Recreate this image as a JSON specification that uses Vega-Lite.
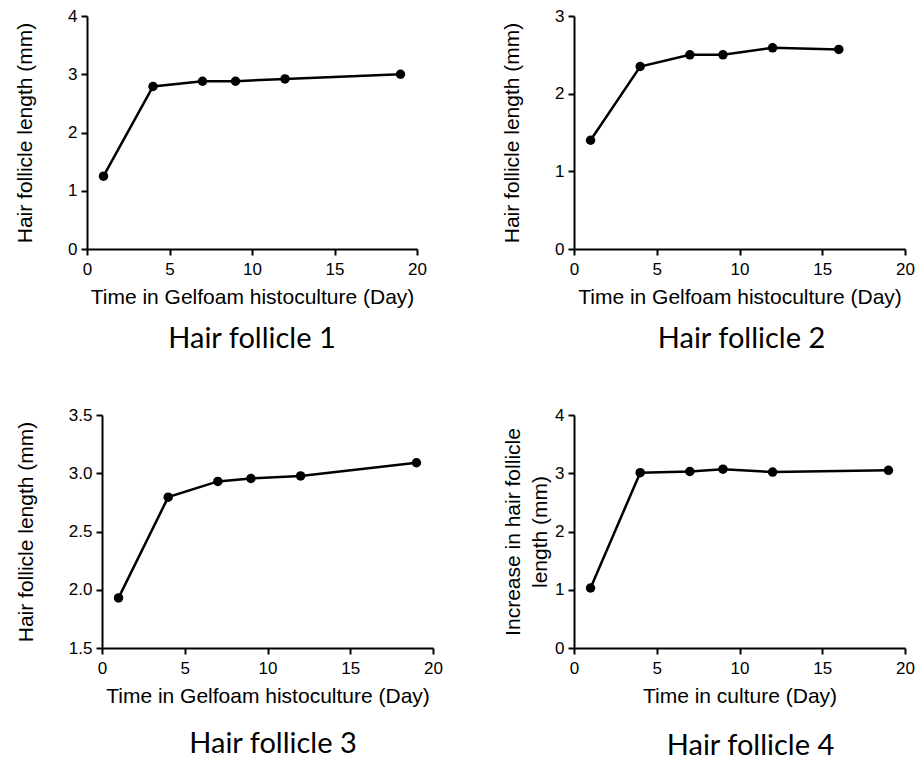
{
  "$schema": "https://vega.github.io/schema/vega-lite/v6.json",
  "background": "white",
  "padding": {"left": 14, "top": 7, "right": 0, "bottom": 0},
  "datasets": {
    "hf1": [
      {"day": 1, "length": 1.25}, {"day": 4, "length": 2.79}, {"day": 7, "length": 2.88},
      {"day": 9, "length": 2.88}, {"day": 12, "length": 2.92}, {"day": 19, "length": 3.0}
    ],
    "hf2": [
      {"day": 1, "length": 1.40}, {"day": 4, "length": 2.35}, {"day": 7, "length": 2.50},
      {"day": 9, "length": 2.50}, {"day": 12, "length": 2.59}, {"day": 16, "length": 2.57}
    ],
    "hf3": [
      {"day": 1, "length": 1.93}, {"day": 4, "length": 2.795}, {"day": 7, "length": 2.93},
      {"day": 9, "length": 2.955}, {"day": 12, "length": 2.977}, {"day": 19, "length": 3.09}
    ],
    "hf4": [
      {"day": 1, "length": 1.03}, {"day": 4, "length": 3.01}, {"day": 7, "length": 3.03},
      {"day": 9, "length": 3.07}, {"day": 12, "length": 3.02}, {"day": 19, "length": 3.05}
    ]
  },
  "config": {
    "view": {"stroke": null},
    "axis": {
      "domainColor": "black", "domainWidth": 2, "tickColor": "black", "tickWidth": 2, "tickSize": 6,
      "labelFont": "Liberation Sans", "labelFontSize": 17, "labelColor": "black", "labelFlush": false,
      "titleFont": "Liberation Sans", "titleFontSize": 21, "titleFontWeight": "normal", "titleColor": "black",
      "grid": false, "labelPadding": 4
    },
    "axisX": {"labelPadding": 6, "titlePadding": 9},
    "axisY": {"titlePadding": 32},
    "title": {"orient": "bottom", "font": "Lato", "fontSize": 29, "fontWeight": "normal", "color": "black", "offset": 18, "anchor": "middle"}
  },
  "columns": 2,
  "spacing": {"row": 52, "column": 58},
  "concat": [
    {
      "width": 330, "height": 233, "title": {"text": "Hair follicle 1"},
      "data": {"name": "hf1"},
      "encoding": {
        "x": {"field": "day", "type": "quantitative", "scale": {"domain": [0, 20], "nice": false}, "axis": {"values": [0, 5, 10, 15, 20], "title": "Time in Gelfoam histoculture (Day)"}},
        "y": {"field": "length", "type": "quantitative", "scale": {"domain": [0, 4], "nice": false}, "axis": {"values": [0, 1, 2, 3, 4], "title": "Hair follicle length (mm)"}}
      },
      "layer": [
        {"mark": {"type": "line", "color": "black", "strokeWidth": 2.5}},
        {"mark": {"type": "point", "filled": true, "color": "black", "size": 90, "opacity": 1}}
      ]
    },
    {
      "width": 331, "height": 233, "title": {"text": "Hair follicle 2", "dx": 2},
      "data": {"name": "hf2"},
      "encoding": {
        "x": {"field": "day", "type": "quantitative", "scale": {"domain": [0, 20], "nice": false}, "axis": {"values": [0, 5, 10, 15, 20], "title": "Time in Gelfoam histoculture (Day)"}},
        "y": {"field": "length", "type": "quantitative", "scale": {"domain": [0, 3], "nice": false}, "axis": {"values": [0, 1, 2, 3], "title": "Hair follicle length (mm)"}}
      },
      "layer": [
        {"mark": {"type": "line", "color": "black", "strokeWidth": 2.5}},
        {"mark": {"type": "point", "filled": true, "color": "black", "size": 90, "opacity": 1}}
      ]
    },
    {
      "width": 346, "height": 233, "title": {"text": "Hair follicle 3", "dx": 13, "offset": 24},
      "data": {"name": "hf3"},
      "encoding": {
        "x": {"field": "day", "type": "quantitative", "scale": {"domain": [0, 20], "nice": false, "range": [15, 346]}, "axis": {"values": [0, 5, 10, 15, 20], "title": "Time in Gelfoam histoculture (Day)"}},
        "y": {"field": "length", "type": "quantitative", "scale": {"domain": [1.5, 3.5], "nice": false, "zero": false}, "axis": {"values": [1.5, 2.0, 2.5, 3.0, 3.5], "format": ".1f", "offset": -15, "title": "Hair follicle length (mm)"}}
      },
      "layer": [
        {"mark": {"type": "line", "color": "black", "strokeWidth": 2.5}},
        {"mark": {"type": "point", "filled": true, "color": "black", "size": 90, "opacity": 1}}
      ]
    },
    {
      "width": 331, "height": 233, "title": {"text": "Hair follicle 4", "dx": 11, "offset": 26},
      "data": {"name": "hf4"},
      "encoding": {
        "x": {"field": "day", "type": "quantitative", "scale": {"domain": [0, 20], "nice": false}, "axis": {"values": [0, 5, 10, 15, 20], "title": "Time in culture (Day)"}},
        "y": {"field": "length", "type": "quantitative", "scale": {"domain": [0, 4], "nice": false}, "axis": {"values": [0, 1, 2, 3, 4], "title": ["Increase in hair follicle", "length (mm)"], "titlePadding": 4, "titleLineHeight": 27}}
      },
      "layer": [
        {"mark": {"type": "line", "color": "black", "strokeWidth": 2.5}},
        {"mark": {"type": "point", "filled": true, "color": "black", "size": 90, "opacity": 1}}
      ]
    }
  ]
}
